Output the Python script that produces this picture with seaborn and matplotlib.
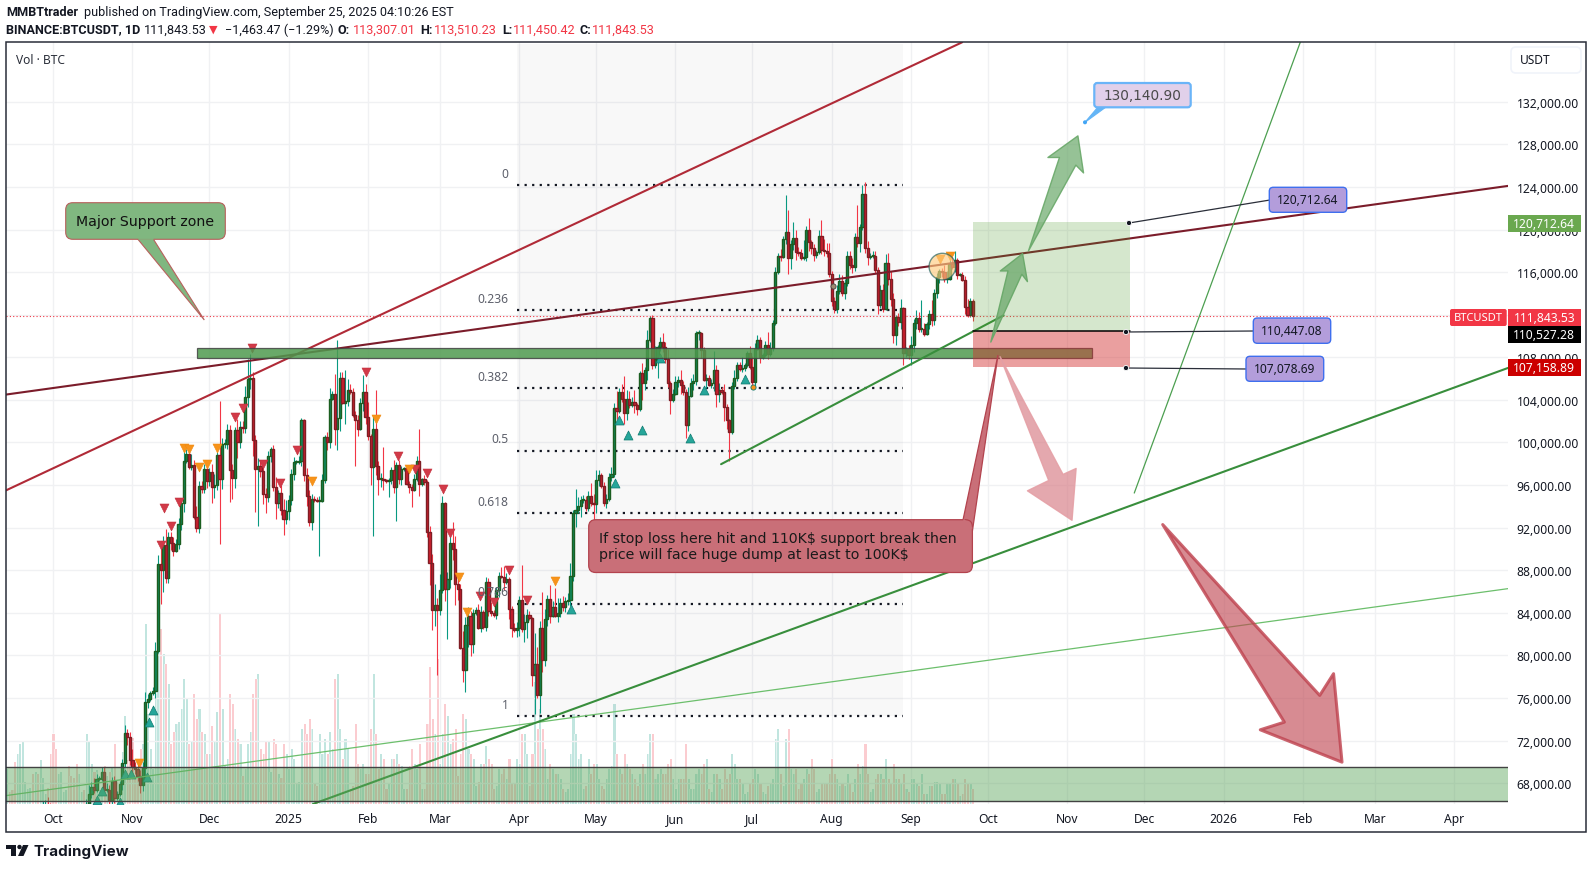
import numpy as np
import pandas as pd
import matplotlib
matplotlib.use("Agg")
import matplotlib.pyplot as plt
from matplotlib.patches import Rectangle, Polygon, Circle, FancyBboxPatch, Ellipse
import seaborn as sns

# ---------------------------
# Data (prices in thousand USDT, one row per month)
# ---------------------------
FIRST_DAY = "2024-09-13"
AXIS_BASE = "2024-10-01"
FIRST_OPEN = 60.0

closes = [
    60.5, 60.0, 59.2, 58.2, 60.3, 61.6, 62.9, 63.2, 63.3, 63.6, 63.3, 64.3, 63.1, 65.2, 65.8, 65.9, 65.6, 63.3,
    60.8, 60.6, 60.8, 62.1, 62.1, 62.8, 62.2, 62.1, 60.6, 60.3, 62.4, 63.2, 62.9, 66.0, 67.0, 67.6, 67.4, 68.4, 68.4, 69.0, 67.4, 67.4, 66.4, 68.2, 66.6, 67.0, 67.9, 69.9, 72.7, 72.3, 70.2,
    69.5, 69.3, 68.7, 67.8, 69.4, 75.6, 75.9, 76.5, 76.7, 80.4, 88.6, 88.0, 90.4, 87.3, 91.1, 90.6, 89.8, 90.5, 92.3, 94.3, 98.3, 98.9, 97.7, 97.9, 93.0, 92.0, 95.9, 95.6, 97.5, 96.4,
    97.2, 95.8, 96.0, 98.8, 96.6, 99.9, 99.9, 101.2, 97.4, 96.7, 101.2, 100.0, 101.5, 101.4, 104.3, 106.0, 106.1, 100.2, 97.5, 97.8, 97.3, 95.2, 94.9, 98.7, 99.4, 95.8, 94.3, 95.3, 93.7, 92.8, 93.6,
    94.6, 97.0, 98.2, 98.2, 98.3, 102.1, 96.9, 95.0, 92.5, 94.7, 94.6, 94.5, 94.5, 96.5, 100.5, 100.0, 104.1, 104.6, 101.3, 102.3, 106.1, 103.7, 103.9, 104.9, 104.7, 102.6, 102.1, 101.3, 103.7, 104.7, 102.4,
    100.6, 97.7, 101.3, 97.8, 96.6, 96.6, 96.5, 96.4, 96.5, 97.4, 95.8, 97.9, 96.6, 97.5, 97.6, 96.1, 95.8, 95.5, 96.6, 98.3, 96.1, 96.6, 96.3, 91.6, 88.7, 84.3, 84.7, 84.3,
    86.1, 94.3, 86.2, 87.2, 90.6, 90.0, 86.7, 86.2, 80.7, 78.6, 82.9, 83.7, 81.1, 84.0, 84.3, 82.6, 84.1, 82.7, 86.9, 84.2, 84.0, 83.8, 86.1, 87.5, 87.4, 86.9, 87.2, 84.4, 82.6, 82.4, 82.6,
    85.2, 82.5, 83.1, 83.8, 83.5, 78.2, 79.2, 76.3, 82.6, 79.6, 83.4, 85.3, 83.7, 84.5, 83.7, 84.0, 84.9, 84.5, 85.1, 85.2, 87.5, 93.4, 93.7, 94.0, 94.6, 94.6, 93.8, 95.0, 94.3, 94.2,
    96.5, 96.9, 95.9, 94.3, 94.7, 96.8, 97.0, 103.2, 103.0, 104.7, 104.1, 102.8, 104.1, 103.5, 103.8, 103.5, 103.1, 106.5, 105.6, 106.8, 109.6, 111.7, 107.3, 107.8, 109.0, 109.4, 109.0, 107.8, 105.6, 104.0, 104.6,
    105.7, 105.9, 105.4, 104.7, 101.6, 104.4, 105.6, 105.8, 110.3, 110.3, 108.7, 105.9, 106.1, 105.4, 105.6, 106.8, 104.6, 104.9, 104.7, 103.3, 102.1, 101.0, 105.3, 106.1, 107.3, 106.9, 107.0, 107.3, 108.4, 107.1,
    105.7, 108.8, 109.6, 108.0, 108.2, 109.2, 108.3, 108.9, 111.2, 116.0, 117.5, 117.4, 119.1, 119.8, 117.3, 118.6, 119.2, 117.9, 117.8, 117.3, 117.4, 120.0, 118.8, 118.3, 117.6, 117.9, 119.4, 118.1, 118.0, 117.8, 115.8,
    113.3, 112.5, 114.2, 115.2, 114.0, 115.0, 117.5, 116.7, 116.5, 119.3, 118.7, 120.2, 123.3, 118.3, 117.4, 117.5, 117.5, 116.2, 112.9, 114.3, 112.5, 116.9, 115.4, 113.5, 110.1, 111.8, 111.3, 112.6, 108.4, 108.8, 108.2,
    109.2, 111.2, 111.7, 110.7, 110.7, 110.2, 111.1, 112.1, 111.5, 114.0, 115.5, 116.1, 116.0, 115.4, 115.4, 116.8, 116.5, 117.1, 115.7, 115.7, 115.3, 112.7, 112.0, 113.3, 111.84,
]

upper_wicks = [
    .8, .7, .8, 1.0, 1.5, 1.4, 1.0, .8, .5, .4, .4, .5, 1.0, .8, .5, .5, .8, .5,
    .5, .6, .5, .6, .3, .3, .4, .5, .6, .5, .4, .4, .5, .5, .8, .5, .9, .5, .3, .5, .5, .6, .4, .4, .5, .3, .3, .4, .8, .4, .5,
    1.0, .5, .5, .5, .6, 1.0, .5, .2, .3, .9, .8, 1.5, .8, 1.5, .5, .5, .5, .4, .6, .5, 1.0, .5, .5, 1.0, .5, 1.0, .5, .5, .5, .5,
    .4, .8, 1.0, .3, 5.1, .5, .4, .5, .4, .6, .3, 1.0, .5, .5, 1.0, 1.8, 2.2, .5, .5, .7, .5, .3, .5, .5, .2, .4, 1.0, .2, .7, 1.0, 1.0,
    .5, .5, .4, .2, .4, .2, .1, .7, .5, .5, .3, .3, .5, .5, .2, .5, 1.0, .2, 1.8, 7.3, .5, .5, 2.9, 1.1, .6, .4, .4, .5, .5, 1.6, .8,
    1.4, .2, 1.2, 3.6, .5, .5, 3.0, .1, .2, .3, 1.0, .3, .5, .3, .1, .2, .3, .3, .4, .4, 3.0, .1, .3, .2, .6, .8, 2.0, .7,
    1.5, .7, .1, .6, .8, 1.9, 1.2, .6, .5, 1.6, .7, .8, .5, .4, .2, .5, .5, .2, .5, .4, .8, .3, .3, .3, .8, 1.0, .5, .2, .2, .4, .5,
    .4, 3.3, .8, .6, .4, .1, 2.9, 1.6, .6, 3.4, 1.0, .4, 1.3, .6, 1.8, 1.4, .5, .7, .4, .7, 1.2, .3, 1.9, .9, .4, .5, .4, .4, 1.2, .9,
    .9, .5, .2, .4, .5, .3, .7, .5, 1.6, .4, .8, 2.1, .8, .7, .5, 1.1, .2, .2, 1.0, .3, 1.0, .2, .3, 1.3, .2, .5, .9, .4, 1.0, .2, .4,
    .5, .3, .9, .4, .3, .8, .5, .6, .2, .3, .1, .3, .3, .2, .4, 1.8, .5, .7, .3, .8, .3, .1, .4, .7, .3, .3, 1.0, .2, .2, .7,
    1.0, .5, .5, .3, .2, .3, 1.2, .5, .3, .5, .3, .7, .3, 3.4, 2.0, .4, 1.5, .8, .5, .4, 1.6, .3, 1.1, .2, .3, .2, .6, 1.5, 1.0, .7, .9,
    .3, .4, .6, .6, .5, .4, .5, .5, .6, .4, 3.0, .3, .9, 1.2, .6, .3, .5, .5, .3, .5, .6, .8, .9, .7, .5, .2, .4, .9, .1, .2, .4,
    .8, .4, .7, .6, 2.7, .5, .2, .3, 1.3, .4, .4, .2, .3, .7, .7, .3, .6, .9, .2, .2, .3, .3, .8, .3, .2,
]

lower_wicks = [
    .5, .4, .7, .8, .5, 1.0, .4, .5, .3, .7, .3, .9, .8, .3, .5, .4, .5, .5,
    .6, .5, .5, .6, .2, .3, .4, .3, .3, .5, .2, .2, .3, .6, .6, .4, .3, .2, .2, .2, .5, .2, .9, .5, .5, .2, .2, .5, .4, .7, .5,
    .9, .4, .5, .7, .5, 1.0, .5, .2, .2, .7, .2, 3.2, 2.0, .5, .5, .7, .5, .1, .5, .5, .8, .2, .2, .3, .2, .4, .5, .3, .3, .7,
    .5, 1.5, 1.0, .5, 6.1, 1.0, .4, .5, 3.0, 2.0, 1.0, 1.5, .5, .5, .5, 1.0, 1.0, 1.5, 4.0, 5.3, .5, 1.0, 1.5, .5, .5, .4, 1.5, .5, .5, 1.5, .5,
    .9, .5, .5, .2, .2, .5, .5, 1.0, .3, .7, .2, .1, 5.2, .1, .3, .7, .5, .1, 1.5, 2.0, 1.2, .1, 2.0, .5, .1, .2, 4.3, .7, .1, .7, .7,
    .4, 1.7, 6.5, .9, 1.5, .8, 1.0, .2, 1.5, .4, .5, 3.2, .5, .6, .2, .1, .5, 1.6, .1, .2, 1.1, .2, .3, .5, 2.1, 1.9, 1.5, 6.1,
    .5, .2, 1.1, 4.7, .9, 1.0, 2.0, 1.0, .1, 1.1, 2.0, 2.1, 1.2, .9, .2, .1, .4, .2, .4, .5, .3, .2, .4, .6, .1, .8, .2, 1.0, .9, .2, .7,
    .8, .3, 1.2, 1.5, .2, 1.1, 3.7, .3, 1.7, 1.2, .6, .6, .7, .1, .1, .6, .4, .3, .4, .4, .6, .5, 1.3, .3, 1.0, .3, .2, .2, .3, 1.6,
    .8, .6, .2, .3, .5, .2, .4, .2, .8, .2, .3, 1.1, .7, .3, .2, .7, .5, .1, 1.6, .7, .9, .2, .4, .3, 1.7, .4, .5, .3, .4, 1.3, .2,
    .1, .5, .8, .2, 1.2, .5, .1, .7, .4, .7, .8, .1, .8, .1, .3, .8, 1.3, .8, .1, 1.3, .8, 2.7, .2, .3, .3, .2, .3, .3, .2, .2,
    .5, .4, .1, .5, .2, .2, .5, .2, .3, .2, .2, .4, .1, .5, 1.5, 1.0, .5, .8, .3, .2, .2, .4, .8, .6, .6, .3, .2, .4, .5, .4, .3,
    .5, .3, .3, .3, .2, .5, .3, .4, .6, .4, .3, .8, .2, .5, .7, .2, .2, .3, .8, .3, .2, .1, .6, .7, .8, .9, .4, .6, 1.1, .4, .4,
    .9, .7, .5, .3, .3, .2, .1, .4, .6, .5, .4, .5, .5, .3, .4, .1, .2, .5, .3, .1, .1, .6, .2, .2, .4,
]

volumes = [
    35, 12, 14, 42, 50, 60, 62, 22, 15, 16, 30, 32, 30, 44, 26, 10, 16, 50,
    70, 55, 30, 32, 12, 14, 38, 28, 26, 40, 30, 12, 14, 70, 62, 40, 32, 34, 14, 14, 38, 28, 32, 36, 60, 12, 14, 52, 88, 44, 60,
    66, 28, 32, 55, 60, 180, 90, 55, 35, 110, 168, 175, 150, 140, 120, 60, 72, 80, 82, 95, 125, 105, 60, 62, 110, 85, 95, 72, 70, 50,
    50, 78, 62, 92, 190, 95, 38, 45, 110, 100, 75, 65, 60, 28, 35, 60, 72, 110, 125, 130, 55, 50, 62, 62, 32, 65, 60, 30, 26, 60, 50,
    35, 55, 45, 20, 22, 75, 80, 70, 85, 75, 20, 18, 70, 50, 65, 50, 72, 55, 125, 130, 75, 45, 65, 55, 15, 18, 80, 40, 35, 40, 30,
    30, 75, 130, 70, 35, 50, 45, 15, 20, 45, 45, 50, 40, 38, 15, 15, 38, 55, 40, 35, 60, 15, 15, 80, 137, 85, 70, 145,
    40, 70, 100, 88, 60, 65, 75, 28, 50, 90, 85, 55, 50, 45, 18, 22, 40, 40, 58, 45, 40, 15, 18, 35, 30, 35, 25, 45, 20, 20, 45,
    40, 70, 70, 50, 18, 50, 122, 75, 95, 75, 55, 25, 40, 35, 30, 30, 25, 15, 12, 15, 50, 90, 70, 45, 50, 15, 18, 45, 30, 40,
    40, 25, 18, 15, 25, 35, 38, 100, 50, 35, 30, 50, 40, 35, 30, 25, 18, 30, 40, 30, 50, 70, 70, 25, 30, 35, 30, 30, 40, 45, 25,
    15, 25, 25, 25, 60, 25, 15, 15, 30, 35, 30, 40, 45, 15, 12, 30, 30, 25, 15, 35, 25, 30, 50, 40, 25, 25, 20, 10, 12, 20,
    25, 35, 30, 20, 12, 10, 18, 20, 25, 65, 75, 30, 18, 65, 75, 35, 30, 35, 15, 20, 25, 35, 30, 45, 35, 12, 15, 20, 20, 20, 30,
    45, 30, 25, 18, 20, 18, 30, 20, 12, 25, 40, 30, 38, 60, 30, 12, 15, 25, 30, 30, 25, 45, 25, 20, 40, 25, 25, 20, 30, 15, 12,
    25, 25, 20, 18, 30, 10, 10, 18, 18, 22, 22, 20, 10, 10, 20, 20, 25, 25, 20, 8, 10, 25, 20, 20, 15,
]

# signal triangles as (days since AXIS_BASE, price)
red_signal_days = [42.2, 43.5, 46.2, 49.3, 71.2, 74.3, 77.6, 82.1, 88.5, 95.4, 122.2, 134.5, 141.3, 146.1, 152.4, 155, 166.5, 172.3, 178.2, 185.2]
red_signal_prices = [90.4, 93.8, 92.2, 94.4, 102.4, 103.2, 108.9, 98.0, 96.2, 99.3, 106.6, 98.7, 97.5, 97.1, 95.6, 91.5, 85.6, 85.0, 88.0, 85.2]
orange_signal_days = [33.4, 51.2, 53.2, 57.1, 60.3, 64, 101.2, 126.1, 139.1, 158.3, 161.5, 196.1, 346.1, 350.3]
orange_signal_prices = [69.9, 99.5, 99.4, 97.7, 98.0, 99.5, 96.4, 102.2, 97.5, 87.4, 84.1, 87.0, 117.2, 117.5]
teal_signal_days = [17.3, 19.2, 26.2, 28.3, 30.3, 36.5, 37.3, 39, 202.4, 219.2, 221.1, 224.3, 230.1, 237, 248.5, 254.2, 270.3]
teal_signal_prices = [66.4, 67.3, 66.2, 68.9, 68.9, 68.6, 73.7, 74.9, 84.4, 96.2, 102.1, 100.7, 101.2, 107.9, 100.4, 104.95, 106.0]

# drawn lines: (start day, end day, start price, end price)
trend_lines = {
    "channel_top": (-18.35, 354.9, 95.5, 137.59),
    "resistance": (-18.35, 568, 104.5, 124.1),
    "short_support": (260.8, 371.1, 97.96, 111.94),
    "long_support": (101.5, 568, 66.04, 107.0),
    "slow_support": (-18.35, 568, 66.83, 86.27),
    "steep_support": (422.1, 486.9, 95.25, 137.59),
}

fib_levels = [124.2, 112.44, 105.07, 99.24, 93.36, 84.86, 74.28]
fib_labels = ["0", "0.236", "0.382", "0.5", "0.618", "0.786", "1"]

position_top = 120.71
position_entry = 110.45
position_stop = 107.08
last_price = 111.84

month_ticks = ["2024-10-01", "2024-11-01", "2024-12-01", "2025-01-01", "2025-02-01", "2025-03-01", "2025-04-01",
               "2025-05-01", "2025-06-01", "2025-07-01", "2025-08-01", "2025-09-01", "2025-10-01", "2025-11-01",
               "2025-12-01", "2026-01-01", "2026-02-01", "2026-03-01", "2026-04-01"]
month_labels = ["Oct", "Nov", "Dec", "2025", "Feb", "Mar", "Apr", "May", "Jun", "Jul", "Aug", "Sep",
                "Oct", "Nov", "Dec", "2026", "Feb", "Mar", "Apr"]
price_ticks = list(range(68, 133, 4))

# arrows as (day, price) vertices
arrow_up_far = [(380.8, 117.99), (392.9, 126.77), (388.4, 126.77), (400.1, 128.8), (402.3, 125.32), (399.3, 126.05)]
arrow_up_near = [(366.1, 109.43), (372.8, 116.11), (369.8, 116.11), (378.5, 117.74), (380.4, 115.11), (378.2, 115.8)]
arrow_down_near = [(369.7, 108.06), (388.7, 96.43), (380.4, 95.46), (397.8, 92.69), (399.4, 97.56), (394.3, 97.0)]
arrow_down_far = [(433.2, 92.29), (480.7, 73.73), (471.3, 73.01), (503.2, 69.97), (499.9, 78.28), (494.5, 76.24)]

# ---------------------------
# Constants
# ---------------------------
WIDTH, HEIGHT = 1592, 870
PANE_LEFT, PANE_RIGHT, PANE_TOP, PANE_BOTTOM = 6, 1508, 43.3, 805
TEAL = "#089981"
RED = "#f23645"
TEXT = "#131722"
GRID = "#f0f1f3"


def build_frame():
    """Daily candles with open taken from the previous close"""
    dates = pd.date_range(FIRST_DAY, periods=len(closes), freq="D")
    df = pd.DataFrame({"date": dates, "close": closes, "volume": volumes})
    df["day"] = (df["date"] - pd.Timestamp(AXIS_BASE)).dt.days
    df["open"] = df["close"].shift(1).fillna(FIRST_OPEN)
    df["high"] = df[["open", "close"]].max(axis=1) + np.array(upper_wicks)
    df["low"] = df[["open", "close"]].min(axis=1) - np.array(lower_wicks)
    df["side"] = np.where(df["close"] >= df["open"], "up", "down")
    return df


def draw_candles(ax, df):
    for side, wick, face, edge in [("up", TEAL, "#0f8a5f", "#1b5e20"), ("down", RED, "#d0202f", "#7f1d24")]:
        part = df[df["side"] == side]
        ax.vlines(part["day"], part["low"], part["high"], color=wick, lw=0.8, zorder=3)
        ax.bar(part["day"], (part["close"] - part["open"]).abs().clip(lower=0.08),
               bottom=part[["open", "close"]].min(axis=1), width=0.85,
               color=face, edgecolor=edge, linewidth=1.0, zorder=3.2)


def draw_line(ax, name, color, lw, zorder):
    x0, x1, y0, y1 = trend_lines[name]
    sns.lineplot(x=[x0, x1], y=[y0, y1], ax=ax, color=color, lw=lw, zorder=zorder,
                 sort=False, estimator=None, legend=False)


def draw_signals(ax):
    sns.scatterplot(x=red_signal_days, y=red_signal_prices, ax=ax, marker="v", s=42,
                    color="#d13a48", edgecolor="#c22f3d", linewidth=0.4, zorder=4)
    sns.scatterplot(x=orange_signal_days, y=orange_signal_prices, ax=ax, marker="v", s=42,
                    color="#f7931a", edgecolor="#ef8a10", linewidth=0.4, zorder=4)
    sns.scatterplot(x=teal_signal_days, y=teal_signal_prices, ax=ax, marker="^", s=42,
                    color="#26a69a", edgecolor="#0e7a70", linewidth=0.5, zorder=4)


def draw_arrow(ax, points, face, edge, alpha, lw, zorder=8):
    ax.add_patch(Polygon(points, closed=True, facecolor=face, edgecolor="none", alpha=alpha, zorder=zorder))
    ax.add_patch(Polygon(points, closed=True, facecolor="none", edgecolor=edge, alpha=min(alpha + 0.2, 1),
                         lw=lw, joinstyle="round", zorder=zorder))


def rounded_box(ov, x0, y0, x1, y1, face, edge, lw=1.0, radius=5, zorder=5):
    ov.add_patch(FancyBboxPatch((x0, y0), x1 - x0, y1 - y0, boxstyle=f"round,pad=0,rounding_size={radius}",
                                facecolor=face, edgecolor=edge, lw=lw, zorder=zorder))


def draw_chrome(ov):
    """Header, axis labels, text boxes and logo, placed in image pixels"""
    ov.add_patch(Rectangle((PANE_LEFT, PANE_TOP), 1585.7 - PANE_LEFT, 832.7 - PANE_TOP, fill=False,
                           edgecolor="#2a2e39", lw=1.1, zorder=1))

    head = dict(fontsize=9.1, family=["Roboto", "DejaVu Sans"], va="center", color=TEXT)
    ov.text(6.5, 12.7, "MMBTtrader", fontweight="bold", **head)
    ov.text(84, 12.7, "published on TradingView.com, September 25, 2025 04:10:26 EST", **head)
    ov.text(6.5, 30, "BINANCE:BTCUSDT, 1D", fontweight="bold", **head)
    ov.text(143.8, 30, "111,843.53", **head)
    ov.text(209, 30, "▼", fontsize=8, va="center", color=RED, family=["DejaVu Sans"])
    ov.text(224.6, 30, "−1,463.47 (−1.29%)", **head)
    for lx, label, vx, value in [(338, "O:", 352.7, "113,307.01"), (420.5, "H:", 434.4, "113,510.23"),
                                 (502, "L:", 512.5, "111,450.42"), (580, "C:", 592.4, "111,843.53")]:
        ov.text(lx, 30, label, fontweight="bold", **head)
        head_red = dict(head, color=RED)
        ov.text(vx, 30, value, **head_red)

    ov.text(15.6, 61, "Vol · BTC", fontsize=8.6, va="center", color="#2a2e39")
    rounded_box(ov, 1511, 48, 1581, 74, "white", "#f0f3fa", lw=1.2)
    ov.text(1520, 61, "USDT", fontsize=8.6, va="center", color=TEXT, zorder=6)

    # price labels on the axis
    for y0, y1, color, text in [(216, 232.7, "#6aa84f", "120,712.64"), (310, 327, RED, "111,843.53"),
                                (327, 344, "black", "110,527.28"), (360, 377, "#cc0000", "107,158.89")]:
        ov.add_patch(Rectangle((1508, y0), 72.7, y1 - y0, facecolor=color, edgecolor="none", zorder=5))
        ov.text(1544.3, (y0 + y1) / 2, text, color="white", fontsize=8.7, fontweight="semibold",
                ha="center", va="center", zorder=6)
    rounded_box(ov, 1450, 310, 1506.7, 327, RED, "none", radius=2)
    ov.text(1478, 318.5, "BTCUSDT", color="white", fontsize=8, ha="center", va="center", zorder=6)

    # connectors of the long position tool
    for x0, y0, x1, y1 in [(1129, 224, 1270, 201), (1126, 333, 1254, 332), (1126, 369, 1247, 370)]:
        ov.plot([x0, x1], [y0, y1], color="#2a2e39", lw=0.9, zorder=4)
        ov.add_patch(Circle((x0, y0), 2.6, facecolor="#131722", edgecolor="white", lw=0.6, zorder=4.5))
    for x0, y0, x1, y1, text in [(1269.3, 188.3, 1346.7, 213.3, "120,712.64"),
                                 (1253.3, 319, 1330.7, 344.3, "110,447.08"),
                                 (1246, 357.3, 1323.7, 382.3, "107,078.69")]:
        rounded_box(ov, x0, y0, x1, y1, "#b39ddb", "#3f6fee", lw=1.0, radius=4)
        ov.text((x0 + x1) / 2, (y0 + y1) / 2, text, color=TEXT, fontsize=8.6, ha="center", va="center", zorder=6)

    # target label
    ov.add_patch(Polygon([(1085, 123.3), (1098, 108), (1106, 108)], facecolor="#64b5f6", edgecolor="#64b5f6",
                         lw=0.8, zorder=4))
    ov.add_patch(Circle((1085, 123.3), 2, facecolor="#42a5f5", edgecolor="none", zorder=4))
    rounded_box(ov, 1094.3, 84, 1190.7, 108.3, "#e1d0ea", "#6ab4f8", lw=1.6, radius=3)
    ov.text(1142.5, 96, "130,140.90", color="#4a4a4a", fontsize=9.8, fontweight="medium", ha="center",
            va="center", zorder=6, family=["DejaVu Sans"])

    # major support callout
    ov.add_patch(Polygon([(137.7, 240), (204.3, 321), (153.3, 240)], facecolor="#80b780", edgecolor="#b8605c",
                         lw=0.8, zorder=5))
    rounded_box(ov, 65.7, 203.7, 225.3, 240.3, "#80b780", "#b8605c", lw=0.8, radius=7, zorder=5)
    ov.plot([138.5, 152.5], [240.3, 240.3], color="#80b780", lw=1.2, zorder=5.5)
    ov.text(145.5, 222, "Major Support zone", color="#111111", fontsize=10.2, ha="center", va="center", zorder=6,
            family=["DejaVu Sans"])

    # stop loss callout
    ov.add_patch(Polygon([(963, 521), (998, 356), (972.4, 532)], facecolor="#c96f78", edgecolor="#b3434e",
                         lw=0.9, zorder=5))
    rounded_box(ov, 588.7, 520.7, 972.4, 573.5, "#c96f78", "#b3434e", lw=0.9, radius=7, zorder=5)
    ov.plot([964, 971.5], [521.2, 529], color="#c96f78", lw=1.4, zorder=5.5)
    ov.text(599, 539, "If stop loss here hit and 110K$ support break then", color="#1a1a1a", fontsize=10.2,
            va="center", zorder=6, family=["DejaVu Sans"])
    ov.text(599, 555, "price will face huge dump at least to 100K$", color="#1a1a1a", fontsize=10.2,
            va="center", zorder=6, family=["DejaVu Sans"])

    # logo
    ov.add_patch(Rectangle((6, 846), 10, 3.8, facecolor="#131722", edgecolor="none"))
    ov.add_patch(Rectangle((10.5, 846), 5.5, 11, facecolor="#131722", edgecolor="none"))
    ov.add_patch(Circle((19.5, 848), 2.2, facecolor="#131722", edgecolor="none"))
    ov.add_patch(Polygon([(23, 846), (28.5, 846), (23.5, 857), (18, 857)], facecolor="#131722", edgecolor="none"))
    ov.text(34, 851.5, "TradingView", color="#131722", fontsize=10.9, fontweight="bold", va="center",
            family=["Inter", "DejaVu Sans"])


# ---------------------------
# Main workflow
# ---------------------------
if __name__ == "__main__":
    sns.set_theme(style="white")
    plt.rcParams["font.family"] = ["Noto Sans", "DejaVu Sans"]

    df = build_frame()

    fig = plt.figure(figsize=(WIDTH / 100, HEIGHT / 100), dpi=100, facecolor="white")
    pane = [PANE_LEFT / WIDTH, 1 - PANE_BOTTOM / HEIGHT, (PANE_RIGHT - PANE_LEFT) / WIDTH,
            (PANE_BOTTOM - PANE_TOP) / HEIGHT]

    # volume sits under the price pane
    ax_vol = fig.add_axes(pane)
    sns.barplot(data=df, x="day", y="volume", hue="side", hue_order=["up", "down"],
                palette={"up": TEAL, "down": RED}, native_scale=True, dodge=False, width=0.42,
                saturation=1, alpha=0.52, legend=False, ax=ax_vol)
    for bar in ax_vol.patches:
        bar.set_antialiased(False)
    ax_vol.set_ylim(0, PANE_BOTTOM - PANE_TOP)
    ax_vol.set_yticks([])
    ax_vol.set_ylabel("")
    ax_vol.set_xlabel("")
    tick_days = [(pd.Timestamp(d) - pd.Timestamp(AXIS_BASE)).days for d in month_ticks]
    ax_vol.set_xticks(tick_days)
    ax_vol.set_xticklabels(month_labels)
    ax_vol.tick_params(axis="x", length=0, pad=6, labelsize=8.7, labelcolor=TEXT)
    for lab, text in zip(ax_vol.get_xticklabels(), month_labels):
        if text.startswith("20"):
            lab.set_fontweight("bold")
    ax_vol.set_xlim(-18.35, 568)
    ax_vol.grid(axis="x", color=GRID, lw=1)
    ax_vol.set_axisbelow(True)
    for spine in ax_vol.spines.values():
        spine.set_visible(False)

    ax = ax_vol.twinx()
    ax.patch.set_alpha(0)
    ax.set_ylim(66.04, 137.59)
    ax.set_yticks(price_ticks)
    # 112,000 sits fully behind the last price labels
    ax.set_yticklabels(["" if p == 112 else f"{p * 1000:,.2f}" for p in price_ticks])
    ax.tick_params(axis="y", length=0, pad=6.2, labelsize=8.7, labelcolor=TEXT)
    ax.grid(axis="y", color=GRID, lw=1)
    ax.set_axisbelow(True)
    for spine in ax.spines.values():
        spine.set_visible(False)

    # fibonacci block
    fib_start, fib_end = 181.3, 332
    ax.add_patch(Rectangle((fib_start, fib_levels[-1]), fib_end - fib_start, 137.4 - fib_levels[-1],
                           facecolor="#787b86", alpha=0.05, edgecolor="none", zorder=1))
    for level, label in zip(fib_levels, fib_labels):
        ax.plot([fib_start, fib_end], [level, level], color="#131722", lw=1.6, ls=(0, (1, 2.4)), zorder=2)
        ax.annotate(label, (fib_start, level), xytext=(-6.5, 8.5), textcoords="offset points", ha="right",
                    va="center", fontsize=8.7, color="#5d606b", zorder=6)

    draw_candles(ax, df)
    draw_signals(ax)
    ax.scatter([273.4], [105.2], s=14, color="#f7931a", edgecolor="#0e7a70", lw=0.6, zorder=4)
    ax.scatter([304.3], [114.7], s=14, color="#9e8a70", edgecolor="#444444", lw=0.6, zorder=4)

    draw_line(ax, "channel_top", "#b02a37", 1.5, 5)
    draw_line(ax, "resistance", "#7b1c2a", 1.5, 5)
    draw_line(ax, "slow_support", "#6cbf6c", 0.9, 5)
    draw_line(ax, "long_support", "#388e3c", 1.5, 5)
    draw_line(ax, "steep_support", "#4c9f50", 0.9, 5)

    # support bands
    ax.add_patch(Rectangle((56.3, 107.96), 349.3, 0.94, facecolor="#4f9a4f", edgecolor="#424242", lw=0.9,
                           alpha=0.85, zorder=6))
    ax.add_patch(Rectangle((-19, 66.3), 587, 3.2, facecolor="#5aa55a", alpha=0.45, edgecolor="none", zorder=6))
    ax.plot([-19, 568], [69.5, 69.5], color="#424242", lw=1, zorder=6)
    ax.plot([-19, 568], [66.3, 66.3], color="#424242", lw=1, zorder=6)

    draw_line(ax, "short_support", "#388e3c", 1.5, 6.5)

    # long position tool
    pos_start, pos_end = 359.1, 420.5
    ax.add_patch(Rectangle((pos_start, position_entry), pos_end - pos_start, position_top - position_entry,
                           facecolor="#4c9a2a", alpha=0.23, edgecolor="none", zorder=7))
    ax.add_patch(Rectangle((pos_start, position_stop), pos_end - pos_start, position_entry - position_stop,
                           facecolor="#d32f2f", alpha=0.46, edgecolor="none", zorder=7))
    ax.plot([pos_start, pos_end], [position_entry, position_entry], color="black", lw=1.1, zorder=7.2)

    ax.axhline(last_price, xmax=0.963, color=RED, lw=0.8, ls=(0, (1, 2)), zorder=3)
    ax.add_patch(Ellipse((347.2, 116.52), 10.4, 2.5, facecolor="#ffcc80", edgecolor="#1b5e5e", alpha=0.65,
                         lw=1, zorder=7))

    draw_arrow(ax, arrow_up_far, "#6aa86a", "#69a869", 0.7, 1.0)
    draw_arrow(ax, arrow_up_near, "#6aa86a", "#69a869", 0.75, 1.0)
    draw_arrow(ax, arrow_down_near, "#d9838c", "#e5a0a6", 0.7, 1.0)
    draw_arrow(ax, arrow_down_far, "#bf4450", "#bf4450", 0.62, 2.2)

    ax.set_xlim(-18.35, 568)

    # overlay in image pixels for labels and header
    ov = fig.add_axes([0, 0, 1, 1], zorder=5)
    ov.set_xlim(0, WIDTH)
    ov.set_ylim(HEIGHT, 0)
    ov.axis("off")
    ov.patch.set_alpha(0)
    draw_chrome(ov)

    fig.savefig("out.png", dpi=100, facecolor="white")
